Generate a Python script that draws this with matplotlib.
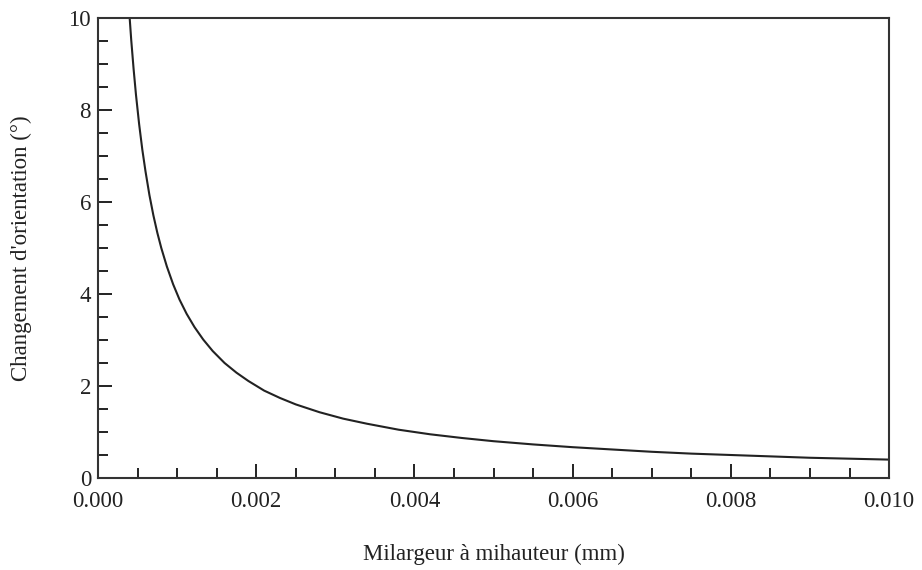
import matplotlib
matplotlib.use('Agg')
import matplotlib.pyplot as plt
from matplotlib.ticker import MultipleLocator

# valeurs
largeur = [0.00039, 0.00042, 0.00045, 0.00048, 0.00052, 0.00056, 0.00060, 0.00065,
           0.00070, 0.00075, 0.00080, 0.00087, 0.00095, 0.00103, 0.00112, 0.00122,
           0.00133, 0.00145, 0.00160, 0.00175, 0.00190, 0.0021, 0.0023, 0.0025,
           0.0028, 0.0031, 0.0034, 0.0038, 0.0042, 0.0046, 0.0050, 0.0055,
           0.0060, 0.0065, 0.0070, 0.0075, 0.0080, 0.0085, 0.0090, 0.0095, 0.0100]
orientation = [10.25, 9.52, 8.89, 8.33, 7.69, 7.14, 6.67, 6.15,
               5.71, 5.33, 5.0, 4.60, 4.21, 3.88, 3.57, 3.28,
               3.01, 2.76, 2.50, 2.29, 2.11, 1.90, 1.74, 1.60,
               1.43, 1.29, 1.18, 1.05, 0.95, 0.87, 0.80, 0.73,
               0.67, 0.62, 0.57, 0.53, 0.50, 0.47, 0.44, 0.42, 0.40]

plt.rcParams['font.family'] = ['Liberation Serif', 'DejaVu Serif']

fig = plt.figure(figsize=(9.22, 5.70), dpi=100)
ax = fig.add_axes([0.1063, 0.1614, 0.858, 0.807])

ax.plot(largeur, orientation, color='#222222', lw=1.5)

ax.set_xlim(0, 0.010)
ax.set_ylim(0, 10)
ax.xaxis.set_major_locator(MultipleLocator(0.002))
ax.xaxis.set_minor_locator(MultipleLocator(0.0005))
ax.yaxis.set_major_locator(MultipleLocator(2))
ax.yaxis.set_minor_locator(MultipleLocator(0.5))
ax.xaxis.set_major_formatter(plt.FormatStrFormatter('%.3f'))
ax.tick_params(which='both', direction='in', top=False, right=False,
               labelsize=16.5, colors='#222222')
ax.tick_params(which='major', length=10, width=1.4)
ax.tick_params(which='minor', length=7, width=1.4)
ax.tick_params(axis='x', pad=9)
ax.tick_params(axis='y', pad=5)
for s in ax.spines.values():
    s.set_linewidth(1.5)
    s.set_color('#333333')

ax.set_xlabel('Milargeur à mihauteur (mm)', fontsize=16.5, labelpad=23, color='#222222')
ax.set_ylabel("Changement d'orientation (°)", fontsize=16.5, labelpad=26, color='#222222')

fig.savefig('out.png', dpi=100)
